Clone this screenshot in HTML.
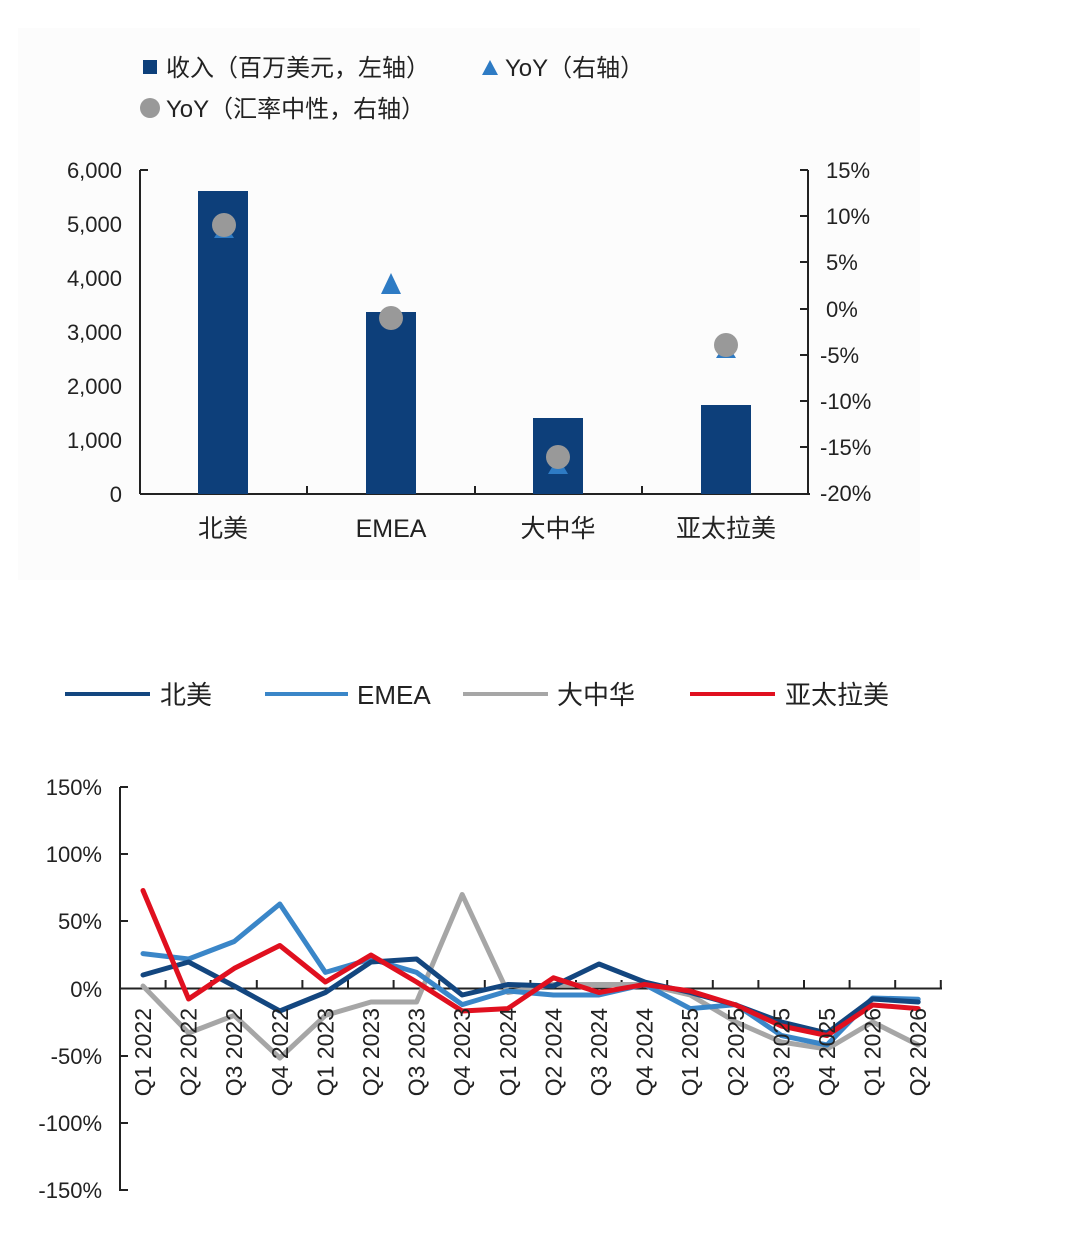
<!DOCTYPE html>
<html><head><meta charset="utf-8"><style>
html,body{margin:0;padding:0;background:#fff;}
svg{display:block;font-family:"Liberation Sans","Noto Sans CJK SC",sans-serif;}
</style></head><body>
<svg width="1080" height="1243" viewBox="0 0 1080 1243">
<rect x="0" y="0" width="1080" height="1243" fill="#fff"/>
<rect x="18" y="28" width="902" height="552" fill="#fcfcfc"/>
<!-- top legend -->
<rect x="143" y="60" width="14" height="14" fill="#0d3f7a"/>
<text x="166" y="76" font-size="24" fill="#222">收入（百万美元，左轴）</text>
<polygon points="490,60 482,75 498,75" fill="#2e7bc4"/>
<text x="505" y="76" font-size="24" fill="#222">YoY（右轴）</text>
<circle cx="150" cy="108" r="10" fill="#999"/>
<text x="166" y="117" font-size="24" fill="#222">YoY（汇率中性，右轴）</text>
<!-- axes -->
<g stroke="#222" stroke-width="2" fill="none">
<line x1="140" y1="170" x2="140" y2="494"/>
<line x1="140" y1="494" x2="810" y2="494"/>
<line x1="808" y1="170" x2="808" y2="494"/>
<line x1="140" y1="170" x2="148" y2="170"/>
<line x1="307" y1="486" x2="307" y2="494"/><line x1="475" y1="486" x2="475" y2="494"/><line x1="642" y1="486" x2="642" y2="494"/>
<line x1="800" y1="170" x2="808" y2="170"/><line x1="800" y1="216" x2="808" y2="216"/><line x1="800" y1="262" x2="808" y2="262"/><line x1="800" y1="309" x2="808" y2="309"/><line x1="800" y1="355" x2="808" y2="355"/><line x1="800" y1="401" x2="808" y2="401"/><line x1="800" y1="447" x2="808" y2="447"/>
</g>
<g font-size="22" fill="#222" text-anchor="end">
<text x="122" y="178">6,000</text><text x="122" y="232">5,000</text><text x="122" y="286">4,000</text><text x="122" y="340">3,000</text><text x="122" y="394">2,000</text><text x="122" y="448">1,000</text><text x="122" y="502">0</text>
</g>
<g font-size="22" fill="#222">
<text x="826" y="178">15%</text><text x="826" y="224">10%</text><text x="826" y="270">5%</text><text x="826" y="317">0%</text><text x="820" y="363">-5%</text><text x="820" y="409">-10%</text><text x="820" y="455">-15%</text><text x="820" y="501">-20%</text>
</g>
<g fill="#0d3f7a">
<rect x="198" y="191" width="50" height="303"/>
<rect x="366" y="312" width="50" height="182"/>
<rect x="533" y="418" width="50" height="76"/>
<rect x="701" y="405" width="50" height="89"/>
</g>
<g fill="#2e7bc4">
<polygon points="224,222 214,238 234,238"/>
<polygon points="391,273 381,294 401,294"/>
<polygon points="558,457 548,474 568,474"/>
<polygon points="726,342 716,358 736,358"/>
</g>
<g fill="#999">
<circle cx="224" cy="225" r="12"/><circle cx="391" cy="318" r="12"/><circle cx="558" cy="457" r="12"/><circle cx="726" cy="345" r="12"/>
</g>
<g font-size="25" fill="#222" text-anchor="middle">
<text x="223" y="537">北美</text><text x="391" y="537">EMEA</text><text x="558" y="537">大中华</text><text x="726" y="537">亚太拉美</text>
</g>
<!-- bottom legend -->
<g stroke-width="4">
<line x1="65" y1="694" x2="150" y2="694" stroke="#13467f"/>
<line x1="265" y1="694" x2="348" y2="694" stroke="#3a86c8"/>
<line x1="463" y1="694" x2="548" y2="694" stroke="#a6a6a6"/>
<line x1="690" y1="694" x2="775" y2="694" stroke="#e0101f"/>
</g>
<g font-size="26" fill="#222">
<text x="160" y="704">北美</text><text x="357" y="704">EMEA</text><text x="557" y="704">大中华</text><text x="785" y="704">亚太拉美</text>
</g>
<!-- bottom axes -->
<g stroke="#222" stroke-width="2">
<line x1="120" y1="787" x2="120" y2="1191"/>
<line x1="120" y1="988.5" x2="942" y2="988.5"/>
<line x1="120" y1="787" x2="128" y2="787"/><line x1="120" y1="854" x2="128" y2="854"/><line x1="120" y1="921" x2="128" y2="921"/><line x1="120" y1="1056" x2="128" y2="1056"/><line x1="120" y1="1123" x2="128" y2="1123"/><line x1="120" y1="1190" x2="128" y2="1190"/>
<path d="M165.6 988v-8M211.2 988v-8M256.8 988v-8M302.4 988v-8M348 988v-8M393.6 988v-8M439.2 988v-8M484.8 988v-8M530.4 988v-8M576 988v-8M621.6 988v-8M667.2 988v-8M712.8 988v-8M758.4 988v-8M804 988v-8M849.6 988v-8M895.2 988v-8M940.8 988v-8"/>
</g>
<g font-size="22" fill="#222" text-anchor="end">
<text x="102" y="795">150%</text><text x="102" y="862">100%</text><text x="102" y="929">50%</text><text x="102" y="997">0%</text><text x="102" y="1064">-50%</text><text x="102" y="1131">-100%</text><text x="102" y="1198">-150%</text>
</g>
<g fill="none" stroke-width="5" stroke-linejoin="round" stroke-linecap="round">
<polyline stroke="#a6a6a6" points="143,986 188.6,1033 234.2,1015.4 279.8,1058 325.4,1015.4 371,1002 416.6,1002 462.2,894.5 507.8,992.5 553.4,984.5 599,984.5 644.6,984.5 690.2,995 735.8,1022 781.4,1042 827,1049 872.6,1022 918.2,1045"/>
<polyline stroke="#3a86c8" points="143,953.6 188.6,959 234.2,941.5 279.8,904 325.4,972.4 371,959 416.6,972.4 462.2,1004.6 507.8,991 553.4,995 599,995 644.6,984.5 690.2,1008.6 735.8,1004.6 781.4,1035.5 827,1045 872.6,998 918.2,999.2"/>
<polyline stroke="#13467f" points="143,975 188.6,962 234.2,986 279.8,1011 325.4,992.5 371,962 416.6,959 462.2,995 507.8,984.5 553.4,986 599,964 644.6,982 690.2,992.5 735.8,1005 781.4,1022 827,1033 872.6,999 918.2,1002"/>
<polyline stroke="#e0101f" points="143,890.5 188.6,999 234.2,968.4 279.8,945.5 325.4,982 371,955 416.6,982 462.2,1011 507.8,1008.6 553.4,977.8 599,992.5 644.6,984.5 690.2,991 735.8,1005 781.4,1026 827,1035.5 872.6,1005 918.2,1008.6"/>
</g>
<g font-size="23" fill="#222" text-anchor="end" xml:space="preserve">
<text transform="translate(151,1008) rotate(-90)">Q1   2022</text>
<text transform="translate(196.6,1008) rotate(-90)">Q2   2022</text>
<text transform="translate(242.2,1008) rotate(-90)">Q3   2022</text>
<text transform="translate(287.8,1008) rotate(-90)">Q4   2022</text>
<text transform="translate(333.4,1008) rotate(-90)">Q1   2023</text>
<text transform="translate(379,1008) rotate(-90)">Q2   2023</text>
<text transform="translate(424.6,1008) rotate(-90)">Q3   2023</text>
<text transform="translate(470.2,1008) rotate(-90)">Q4   2023</text>
<text transform="translate(515.8,1008) rotate(-90)">Q1   2024</text>
<text transform="translate(561.4,1008) rotate(-90)">Q2   2024</text>
<text transform="translate(607,1008) rotate(-90)">Q3   2024</text>
<text transform="translate(652.6,1008) rotate(-90)">Q4   2024</text>
<text transform="translate(698.2,1008) rotate(-90)">Q1   2025</text>
<text transform="translate(743.8,1008) rotate(-90)">Q2   2025</text>
<text transform="translate(789.4,1008) rotate(-90)">Q3   2025</text>
<text transform="translate(835,1008) rotate(-90)">Q4   2025</text>
<text transform="translate(880.6,1008) rotate(-90)">Q1   2026</text>
<text transform="translate(926.2,1008) rotate(-90)">Q2   2026</text>
</g>
</svg>
</body></html>
